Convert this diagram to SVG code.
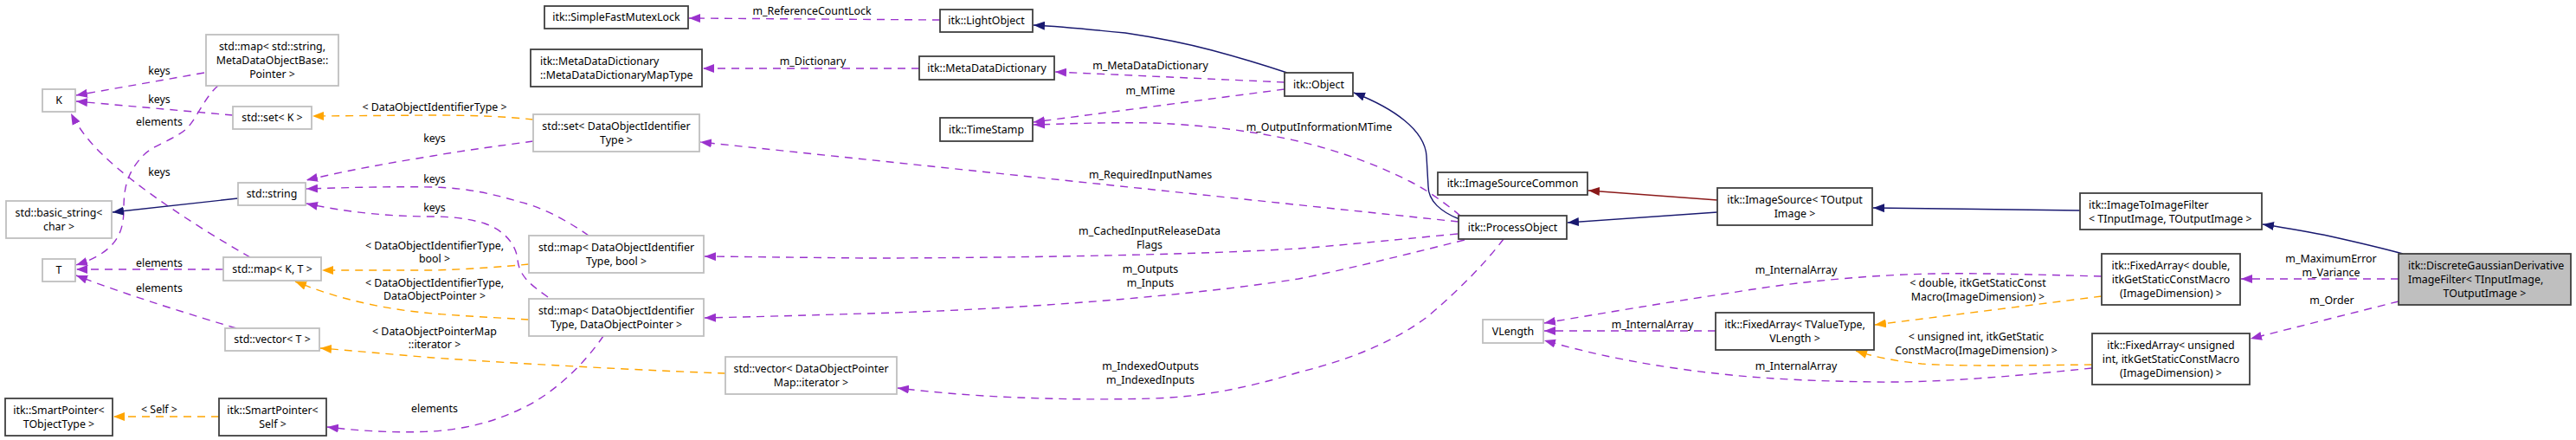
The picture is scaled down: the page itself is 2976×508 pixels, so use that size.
<svg xmlns="http://www.w3.org/2000/svg" width="2976" height="508" viewBox="0 0 2976 508">
<style>
text{font-family:"Noto Sans","DejaVu Sans",sans-serif;font-size:12.4px;fill:#000}
.c{text-anchor:middle}
.s{text-anchor:start}
.n rect{fill:#fff;stroke-width:1.8}
.g rect{stroke:#bfbfbf}
.d rect{stroke:#404040}
.m rect{fill:#bfbfbf;stroke:#404040}
.e{fill:none;stroke-width:1.4}
.p{stroke:#9a32cd;stroke-dasharray:9,7;marker-end:url(#ap)}
.o{stroke:#ffa500;stroke-dasharray:9,7;marker-end:url(#ao)}
.b{stroke:#191970;marker-end:url(#ab)}
.r{stroke:#8b1a1a;marker-end:url(#ar)}
</style>
<defs>
<marker id="ap" viewBox="0 0 13 10" markerWidth="13" markerHeight="10" refX="13" refY="5" orient="auto" markerUnits="userSpaceOnUse"><path d="M0,0L13,5L0,10z" fill="#9a32cd"/></marker>
<marker id="ao" viewBox="0 0 13 10" markerWidth="13" markerHeight="10" refX="13" refY="5" orient="auto" markerUnits="userSpaceOnUse"><path d="M0,0L13,5L0,10z" fill="#ffa500"/></marker>
<marker id="ab" viewBox="0 0 13 10" markerWidth="13" markerHeight="10" refX="13" refY="5" orient="auto" markerUnits="userSpaceOnUse"><path d="M0,0L13,5L0,10z" fill="#191970"/></marker>
<marker id="ar" viewBox="0 0 13 10" markerWidth="13" markerHeight="10" refX="13" refY="5" orient="auto" markerUnits="userSpaceOnUse"><path d="M0,0L13,5L0,10z" fill="#8b1a1a"/></marker>
</defs>
<rect width="2976" height="508" fill="#fff"/>
<g id="connectors">
<path class="e p" d="M236,84L88,110"/>
<text class="c" x="184" y="86.4">keys</text>
<path class="e p" d="M269,133L88,117"/>
<text class="c" x="184" y="119.4">keys</text>
<path class="e p" d="M289,297C228,262 160,218 120,180C105,166 92,150 82,131"/>
<text class="c" x="184" y="203.4">keys</text>
<path class="e p" d="M252,99C238,110 228,135 217,147C205,160 175,168 165,180C148,198 143,215 143,240C143,265 138,290 88,306"/>
<text class="c" x="184" y="145.4">elements</text>
<path class="e p" d="M258,311L88,311"/>
<text class="c" x="184" y="308.4">elements</text>
<path class="e p" d="M273,379C230,366 150,342 88,318"/>
<text class="c" x="184" y="337.4">elements</text>
<path class="e b" d="M275,229L130,245"/>
<path class="e o" d="M253,481L131,481"/>
<text class="c" x="184" y="477.4">&lt; Self &gt;</text>
<path class="e p" d="M697,388C675,420 640,455 600,473C570,487 540,495 500,498C460,500 420,498 378,493"/>
<text class="c" x="502" y="476.4">elements</text>
<path class="e o" d="M616,138C580,134 540,133 500,133L361,134"/>
<text class="c" x="502" y="128.4">&lt; DataObjectIdentifierType &gt;</text>
<path class="e p" d="M616,163C580,168 540,173 500,180C450,188 400,197 354,208"/>
<text class="c" x="502" y="164.4">keys</text>
<path class="e p" d="M680,272C660,258 630,240 600,233C570,224 540,217 500,216C440,215 390,217 354,218"/>
<text class="c" x="502" y="211.4">keys</text>
<path class="e p" d="M633,343C615,330 600,320 598,300C596,280 580,265 560,258C540,252 520,250 500,250C450,250 400,245 354,235"/>
<text class="c" x="502" y="244.4">keys</text>
<path class="e o" d="M611,305C580,308 540,311 500,312L372,312"/>
<text class="c" x="502" y="288.4">&lt; DataObjectIdentifierType,</text>
<text class="c" x="502" y="303.4">bool &gt;</text>
<path class="e o" d="M611,369C560,366 520,364 490,361C440,356 390,345 341,325"/>
<text class="c" x="502" y="331.4">&lt; DataObjectIdentifierType,</text>
<text class="c" x="502" y="346.4">DataObjectPointer &gt;</text>
<path class="e o" d="M838,431C750,428 600,420 500,413C450,409 410,405 370,402"/>
<text class="c" x="502" y="387.4">&lt; DataObjectPointerMap</text>
<text class="c" x="502" y="402.4">::iterator &gt;</text>
<path class="e p" d="M1086,23L796,21"/>
<text class="c" x="938" y="17.4">m_ReferenceCountLock</text>
<path class="e p" d="M1062,79L812,79"/>
<text class="c" x="939" y="75.4">m_Dictionary</text>
<path class="e b" d="M1487,84C1460,75 1430,66 1400,58C1370,50 1340,44 1300,38C1260,34 1230,31 1194,29"/>
<path class="e p" d="M1484,95L1219,83"/>
<text class="c" x="1329" y="80.4">m_MetaDataDictionary</text>
<path class="e p" d="M1484,103L1194,141"/>
<text class="c" x="1329" y="109.4">m_MTime</text>
<path class="e p" d="M1687,249C1670,235 1650,220 1630,210C1590,190 1550,175 1500,163C1450,152 1400,145 1333,142C1280,141 1230,143 1194,144"/>
<text class="c" x="1524" y="151.4">m_OutputInformationMTime</text>
<path class="e b" d="M1686,253C1665,245 1650,232 1650,215L1648,180C1646,150 1610,125 1564,107"/>
<path class="e p" d="M1685,256L809,164"/>
<text class="c" x="1329" y="206.4">m_RequiredInputNames</text>
<path class="e p" d="M1684,270C1600,278 1550,283 1500,287C1350,296 1100,298 1000,298L814,296"/>
<text class="c" x="1328" y="271.4">m_CachedInputReleaseData</text>
<text class="c" x="1328" y="287.4">Flags</text>
<path class="e p" d="M1692,277C1620,295 1560,310 1500,322C1350,345 1150,358 1000,362C900,365 860,366 814,367"/>
<text class="c" x="1329" y="315.4">m_Outputs</text>
<text class="c" x="1329" y="331.4">m_Inputs</text>
<path class="e p" d="M1737,276C1715,305 1685,335 1650,365C1610,395 1560,415 1500,430C1440,448 1390,458 1333,460C1220,463 1120,458 1037,448"/>
<text class="c" x="1329" y="427.4">m_IndexedOutputs</text>
<text class="c" x="1329" y="443.4">m_IndexedInputs</text>
<path class="e r" d="M1984,231L1835,220"/>
<path class="e b" d="M1984,245L1811,257"/>
<path class="e b" d="M2403,243L2164,240"/>
<path class="e b" d="M2776,293C2750,286 2720,279 2693,273C2665,267 2640,263 2614,259"/>
<path class="e p" d="M2771,322L2589,322"/>
<text class="c" x="2693" y="303.4">m_MaximumError</text>
<text class="c" x="2693" y="319.4">m_Variance</text>
<path class="e p" d="M2771,348L2600,391"/>
<text class="c" x="2694" y="351.4">m_Order</text>
<path class="e p" d="M2428,319C2350,317 2280,315 2233,316C2140,318 2060,328 2000,338C1920,350 1850,362 1784,373"/>
<text class="c" x="2075" y="316.4">m_InternalArray</text>
<path class="e p" d="M1982,382L1784,382"/>
<text class="c" x="1909" y="379.4">m_InternalArray</text>
<path class="e p" d="M2417,425C2330,434 2240,442 2167,441C2100,440 2050,438 2000,433C1920,425 1850,412 1784,393"/>
<text class="c" x="2075" y="427.4">m_InternalArray</text>
<path class="e o" d="M2428,342L2166,375"/>
<text class="c" x="2285" y="331.4">&lt; double, itkGetStaticConst</text>
<text class="c" x="2285" y="347.4">Macro(ImageDimension) &gt;</text>
<path class="e o" d="M2417,421C2330,422 2260,423 2220,420C2190,417 2165,412 2144,405"/>
<text class="c" x="2283" y="393.4">&lt; unsigned int, itkGetStatic</text>
<text class="c" x="2283" y="409.4">ConstMacro(ImageDimension) &gt;</text>
</g>
<g id="n_map_str" class="n g"><rect x="238" y="40" width="153" height="59"/><text class="c" x="314.5" y="58">std::map&lt; std::string,</text><text class="c" x="314.5" y="74">MetaDataObjectBase::</text><text class="c" x="314.5" y="90">Pointer &gt;</text></g>
<g id="n_K" class="n g"><rect x="49" y="103" width="38" height="26"/><text class="c" x="68" y="120.4">K</text></g>
<g id="n_set_K" class="n g"><rect x="269" y="123" width="91" height="26"/><text class="c" x="314.5" y="140.4">std::set&lt; K &gt;</text></g>
<g id="n_string" class="n g"><rect x="275" y="211" width="78" height="26"/><text class="c" x="314" y="228.4">std::string</text></g>
<g id="n_basic_string" class="n g"><rect x="7" y="232" width="122" height="43"/><text class="c" x="68" y="250">std::basic_string&lt;</text><text class="c" x="68" y="266">char &gt;</text></g>
<g id="n_T" class="n g"><rect x="49" y="299" width="38" height="26"/><text class="c" x="68" y="316.4">T</text></g>
<g id="n_map_KT" class="n g"><rect x="258" y="297" width="113" height="27"/><text class="c" x="314.5" y="314.9">std::map&lt; K, T &gt;</text></g>
<g id="n_vector_T" class="n g"><rect x="260" y="379" width="109" height="26"/><text class="c" x="314.5" y="396.4">std::vector&lt; T &gt;</text></g>
<g id="n_sp_tobj" class="n d"><rect x="6" y="460" width="124" height="43"/><text class="c" x="68" y="478">itk::SmartPointer&lt;</text><text class="c" x="68" y="494">TObjectType &gt;</text></g>
<g id="n_sp_self" class="n d"><rect x="253" y="460" width="124" height="43"/><text class="c" x="315" y="478">itk::SmartPointer&lt;</text><text class="c" x="315" y="494">Self &gt;</text></g>
<g id="n_mutex" class="n d"><rect x="629" y="7" width="166" height="26"/><text class="c" x="712" y="24.4">itk::SimpleFastMutexLock</text></g>
<g id="n_mdd_map" class="n d"><rect x="613" y="57" width="198" height="43"/><text class="s" x="624" y="75">itk::MetaDataDictionary</text><text class="s" x="624" y="91">::MetaDataDictionaryMapType</text></g>
<g id="n_set_doit" class="n g"><rect x="616" y="132" width="192" height="43"/><text class="c" x="712" y="150">std::set&lt; DataObjectIdentifier</text><text class="c" x="712" y="166">Type &gt;</text></g>
<g id="n_map_doit_bool" class="n g"><rect x="611" y="272" width="202" height="43"/><text class="c" x="712" y="290">std::map&lt; DataObjectIdentifier</text><text class="c" x="712" y="306">Type, bool &gt;</text></g>
<g id="n_map_doit_dop" class="n g"><rect x="611" y="345" width="202" height="43"/><text class="c" x="712" y="363">std::map&lt; DataObjectIdentifier</text><text class="c" x="712" y="379">Type, DataObjectPointer &gt;</text></g>
<g id="n_vector_dopmap" class="n g"><rect x="838" y="412" width="198" height="43"/><text class="c" x="937" y="430">std::vector&lt; DataObjectPointer</text><text class="c" x="937" y="446">Map::iterator &gt;</text></g>
<g id="n_lightobject" class="n d"><rect x="1086" y="11" width="107" height="26"/><text class="c" x="1139.5" y="28.4">itk::LightObject</text></g>
<g id="n_mdd" class="n d"><rect x="1062" y="65" width="156" height="27"/><text class="c" x="1140" y="82.9">itk::MetaDataDictionary</text></g>
<g id="n_timestamp" class="n d"><rect x="1086" y="136" width="107" height="27"/><text class="c" x="1139.5" y="153.9">itk::TimeStamp</text></g>
<g id="n_object" class="n d"><rect x="1484" y="84" width="79" height="27"/><text class="c" x="1523.5" y="101.9">itk::Object</text></g>
<g id="n_isc" class="n d"><rect x="1661" y="199" width="173" height="26"/><text class="c" x="1747.5" y="216.4">itk::ImageSourceCommon</text></g>
<g id="n_po" class="n d"><rect x="1685" y="249" width="125" height="27"/><text class="c" x="1747.5" y="266.9">itk::ProcessObject</text></g>
<g id="n_vlength" class="n g"><rect x="1713" y="369" width="70" height="27"/><text class="c" x="1748" y="386.9">VLength</text></g>
<g id="n_imagesource" class="n d"><rect x="1984" y="217" width="179" height="43"/><text class="c" x="2073.5" y="235">itk::ImageSource&lt; TOutput</text><text class="c" x="2073.5" y="251">Image &gt;</text></g>
<g id="n_fa_tv" class="n d"><rect x="1982" y="361" width="183" height="43"/><text class="c" x="2073.5" y="379">itk::FixedArray&lt; TValueType,</text><text class="c" x="2073.5" y="395">VLength &gt;</text></g>
<g id="n_i2i" class="n d"><rect x="2403" y="223" width="210" height="42"/><text class="s" x="2413" y="240.5">itk::ImageToImageFilter</text><text class="s" x="2413" y="256.5">&lt; TInputImage, TOutputImage &gt;</text></g>
<g id="n_fa_double" class="n d"><rect x="2428" y="293" width="160" height="59"/><text class="c" x="2508" y="311">itk::FixedArray&lt; double,</text><text class="c" x="2508" y="327">itkGetStaticConstMacro</text><text class="c" x="2508" y="343">(ImageDimension) &gt;</text></g>
<g id="n_fa_uint" class="n d"><rect x="2417" y="385" width="182" height="59"/><text class="c" x="2508" y="403">itk::FixedArray&lt; unsigned</text><text class="c" x="2508" y="419">int, itkGetStaticConstMacro</text><text class="c" x="2508" y="435">(ImageDimension) &gt;</text></g>
<g id="n_dgd" class="n m"><rect x="2771" y="293" width="199" height="59"/><text class="s" x="2782" y="311">itk::DiscreteGaussianDerivative</text><text class="s" x="2782" y="327">ImageFilter&lt; TInputImage,</text><text class="c" x="2870.5" y="343">TOutputImage &gt;</text></g>
</svg>
